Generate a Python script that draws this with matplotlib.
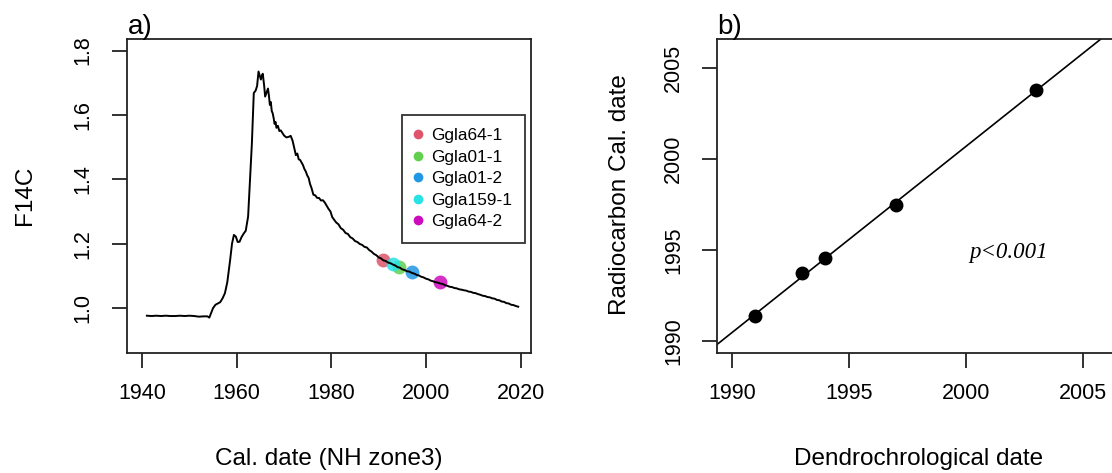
import numpy as np
import matplotlib
matplotlib.use("Agg")
import matplotlib.pyplot as plt
from matplotlib.lines import Line2D

plt.rcParams['font.family'] = ['Liberation Sans', 'DejaVu Sans']

# ---- Panel a: NH zone 3 bomb curve ----
curve_year = [1941.0, 1942.0, 1943.0, 1944.0, 1945.0, 1946.0, 1947.0, 1948.0, 1949.0, 1950.0,
              1951.0, 1952.0, 1953.0, 1953.8, 1954.2, 1954.6, 1955.0, 1955.5, 1956.0, 1956.5,
              1957.0, 1957.5, 1958.0, 1958.6, 1959.0, 1959.4, 1959.8, 1960.2, 1960.6, 1961.0,
              1961.5, 1961.9, 1962.4, 1962.8, 1963.2, 1963.6, 1964.0, 1964.3, 1964.6, 1964.9,
              1965.1, 1965.3, 1965.5, 1965.8, 1966.0, 1966.3, 1966.6, 1966.8, 1967.0, 1967.2,
              1967.4, 1967.6, 1967.8, 1968.0, 1968.2, 1968.4, 1968.7, 1969.0, 1969.3, 1969.6,
              1970.0, 1970.5, 1971.0, 1971.4, 1971.8, 1972.2, 1972.5, 1972.8, 1973.1, 1973.4,
              1973.7, 1974.0, 1974.3, 1974.6, 1974.9, 1975.2, 1975.5, 1975.8, 1976.2, 1976.6,
              1977.0, 1977.4, 1977.8, 1978.2, 1978.6, 1979.0, 1979.4, 1979.8, 1980.2, 1980.6,
              1981.0, 1981.5, 1982.0, 1982.5, 1983.0, 1983.5, 1984.0, 1984.5, 1985.0, 1985.5,
              1986.0, 1986.5, 1987.0, 1987.5, 1988.0, 1988.5, 1989.0, 1989.5, 1990.0, 1990.5,
              1991.0, 1991.5, 1992.0, 1992.5, 1993.0, 1993.5, 1994.0, 1994.5, 1995.0, 1995.5,
              1996.0, 1996.5, 1997.0, 1997.5, 1998.0, 1998.5, 1999.0, 1999.5, 2000.0, 2000.5,
              2001.0, 2001.5, 2002.0, 2002.5, 2003.0, 2003.5, 2004.0, 2004.5, 2005.0, 2005.5,
              2006.0, 2006.5, 2007.0, 2007.5, 2008.0, 2008.5, 2009.0, 2009.5, 2010.0, 2010.5,
              2011.0, 2011.5, 2012.0, 2012.5, 2013.0, 2013.5, 2014.0, 2014.5, 2015.0, 2015.5,
              2016.0, 2016.5, 2017.0, 2017.5, 2018.0, 2018.5, 2019.0, 2019.5]
curve_f14c = [0.976, 0.975, 0.976, 0.975, 0.976, 0.975, 0.975, 0.976, 0.975, 0.976,
              0.975, 0.973, 0.974, 0.974, 0.970, 0.985, 1.000, 1.010, 1.014, 1.018,
              1.030, 1.046, 1.080, 1.149, 1.200, 1.227, 1.222, 1.205, 1.206, 1.220,
              1.232, 1.240, 1.284, 1.400, 1.512, 1.668, 1.676, 1.690, 1.735, 1.720,
              1.710, 1.722, 1.728, 1.690, 1.657, 1.670, 1.682, 1.660, 1.631, 1.640,
              1.612, 1.605, 1.590, 1.572, 1.578, 1.560, 1.566, 1.550, 1.552, 1.545,
              1.536, 1.530, 1.532, 1.535, 1.520, 1.495, 1.475, 1.480, 1.462, 1.460,
              1.452, 1.444, 1.432, 1.424, 1.412, 1.404, 1.385, 1.373, 1.352, 1.350,
              1.342, 1.342, 1.334, 1.335, 1.328, 1.318, 1.308, 1.300, 1.282, 1.274,
              1.266, 1.260, 1.248, 1.243, 1.233, 1.230, 1.220, 1.216, 1.208, 1.205,
              1.199, 1.196, 1.190, 1.188, 1.180, 1.175, 1.168, 1.164, 1.157, 1.154,
              1.148, 1.146, 1.141, 1.139, 1.135, 1.132, 1.127, 1.125, 1.120, 1.118,
              1.114, 1.113, 1.109, 1.107, 1.103, 1.101, 1.097, 1.095, 1.091, 1.089,
              1.085, 1.083, 1.080, 1.079, 1.076, 1.075, 1.071, 1.069, 1.066, 1.065,
              1.062, 1.061, 1.058, 1.057, 1.055, 1.054, 1.051, 1.050, 1.047, 1.046,
              1.043, 1.041, 1.038, 1.037, 1.034, 1.033, 1.030, 1.029, 1.025, 1.024,
              1.020, 1.019, 1.015, 1.014, 1.010, 1.009, 1.006, 1.004]

sample_names = ["Ggla64-1", "Ggla01-1", "Ggla01-2", "Ggla159-1", "Ggla64-2"]
sample_dates = [1991.0, 1994.3, 1997.0, 1993.1, 2003.0]
sample_f14c = [1.149, 1.128, 1.112, 1.137, 1.080]
sample_colors = ["#DF536B", "#61D04F", "#2297E6", "#28E2E5", "#CD0BBC"]

# ---- Panel b ----
dendro_date = [1991, 1993, 1994, 1997, 2003]
radiocarbon_date = [1991.37, 1993.74, 1994.58, 1997.47, 2003.81]

W, H = 1112, 473
fig = plt.figure(figsize=(W / 100, H / 100), dpi=100)

def px_axes(l, t, r, b):
    return fig.add_axes([l / W, 1 - b / H, (r - l) / W, (b - t) / H])

axa = px_axes(127, 39, 531, 352.7)
axb = px_axes(717.3, 39, 1121, 352.7)

LW = 1.3
TFS = 15.5
LFS = 17.5

def style(ax):
    for s in ax.spines.values():
        s.set_linewidth(LW)
        s.set_color('#222222')
    ax.tick_params(length=11, width=LW, labelsize=TFS, pad=11, color='#222222')
    ax.tick_params(axis='y', pad=13)
    for lab in ax.get_yticklabels():
        lab.set_rotation(90)
        lab.set_va('center')

# Panel a
axa.plot(curve_year, curve_f14c, color='black', lw=1.4, zorder=3)
for n, d, f, c in zip(sample_names, sample_dates, sample_f14c, sample_colors):
    axa.plot([d], [f], 'o', color=c, ms=10, alpha=0.85, mec='none', zorder=2)
axa.set_xlim(1936.8, 2022.2)
axa.set_ylim(0.861, 1.836)
axa.set_xticks([1940, 1960, 1980, 2000, 2020])
axa.set_yticks([1.0, 1.2, 1.4, 1.6, 1.8])
axa.set_yticklabels(["1.0", "1.2", "1.4", "1.6", "1.8"])
style(axa)
handles = [Line2D([], [], marker='o', ls='none', color=c, ms=7, mec='none') for c in sample_colors]
leg = axa.legend(handles, sample_names, loc='upper left',
                 bbox_to_anchor=(401.7 / W, 1 - 115 / H), bbox_transform=fig.transFigure,
                 fancybox=False, edgecolor='black', fontsize=12.4, handlelength=0.3,
                 handletextpad=0.62, labelspacing=0.37, borderpad=0.78, borderaxespad=0)
leg.get_frame().set_linewidth(LW)
fig.text(128 / W, 1 - 34 / H, "a)", fontsize=20, ha='left', va='baseline')
fig.text(329 / W, 1 - 459 / H, "Cal. date (NH zone3)", fontsize=LFS, ha='center', va='center')
fig.text(25 / W, 1 - 195 / H, "F14C", fontsize=LFS, ha='center', va='center', rotation=90)

# Panel b
axb.plot(dendro_date, radiocarbon_date, 'o', color='black', ms=9, zorder=3)
slope, intercept = np.polyfit(dendro_date, radiocarbon_date, 1)
axb.axline((1990, slope * 1990 + intercept), slope=slope, color='black', lw=1.2)
axb.set_xlim(1989.38, 2006.63)
axb.set_ylim(1989.36, 2006.61)
axb.set_xticks([1990, 1995, 2000, 2005])
axb.set_yticks([1990, 1995, 2000, 2005])
style(axb)
axb.text(2001.85, 1994.87, "p<0.001", fontsize=16.5, style='italic',
         family=['Liberation Serif', 'DejaVu Serif'], ha='center', va='center')
fig.text(717 / W, 1 - 34 / H, "b)", fontsize=20, ha='left', va='baseline')
fig.text(919 / W, 1 - 459 / H, "Dendrochrological date", fontsize=LFS, ha='center', va='center')
fig.text(620 / W, 1 - 195 / H, "Radiocarbon Cal. date", fontsize=LFS, ha='center', va='center', rotation=90)

fig.savefig("out.png", dpi=100)
